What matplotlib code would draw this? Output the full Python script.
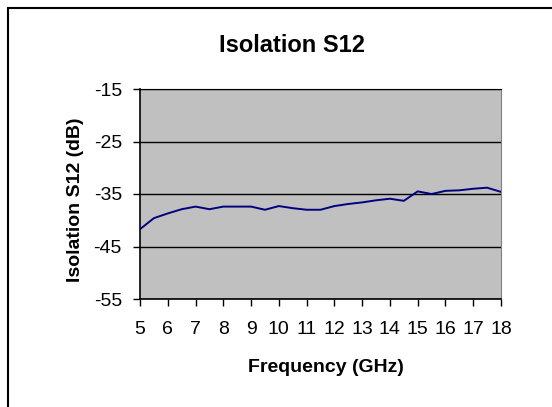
import matplotlib
matplotlib.use('Agg')
import matplotlib.pyplot as plt
from matplotlib.patches import Rectangle

plt.rcParams['font.family'] = ['Liberation Sans', 'DejaVu Sans']

freq = [5.0, 5.5, 6.0, 6.5, 7.0, 7.5, 8.0, 8.5, 9.0, 9.5, 10.0, 10.5, 11.0, 11.5,
        12.0, 12.5, 13.0, 13.5, 14.0, 14.5, 15.0, 15.5, 16.0, 16.5, 17.0, 17.5, 18.0]
s12 = [-41.7, -39.6, -38.7, -37.9, -37.4, -37.9, -37.4, -37.4, -37.4, -38.0, -37.3,
       -37.7, -38.0, -38.0, -37.3, -36.9, -36.6, -36.2, -35.9, -36.3, -34.5, -35.0,
       -34.4, -34.3, -34.0, -33.8, -34.6]
yticks = [-55, -45, -35, -25, -15]
xticks = list(range(5, 19))

fig = plt.figure(figsize=(5.52, 4.07), dpi=100)
ax = fig.add_axes([140/552, 1-299/407, 361/552, 210/407])
ax.set_facecolor('#C0C0C0')

ax.plot(freq, s12, color='#000080', lw=1.4, zorder=3)

ax.set_xlim(5, 18)
ax.set_ylim(-55, -15)
ax.set_xticks(xticks)
ax.set_yticks(yticks)
ax.set_yticklabels(['-55', '-45', '-35', '-25', '-15'])
ax.tick_params(direction='out', length=5, width=1, labelsize=14, colors='black')
ax.tick_params(axis='x', pad=11)
ax.tick_params(axis='y', pad=8)
ax.grid(axis='y', color='black', lw=1)
ax.set_axisbelow(True)

for s in ['left', 'bottom']:
    ax.spines[s].set_linewidth(1.2)
    ax.spines[s].set_color('black')
ax.spines['right'].set_color('#808080')
ax.spines['top'].set_color('black')

fig.text(292/552, 1-45/407, 'Isolation S12', ha='center', va='center',
         fontsize=17, fontweight='bold')
fig.text(326/552, 1-368/407, 'Frequency (GHz)', ha='center', va='center',
         fontsize=14, fontweight='bold')
fig.text(76/552, 1-200/407, 'Isolation S12 (dB)', ha='center', va='center',
         fontsize=14, fontweight='bold', rotation=90)

# chart area border (right and bottom edges fall outside the image)
fig.patches.append(Rectangle((8/552, -0.1), 1.2, 1.1 - 8/407, transform=fig.transFigure,
                             fill=False, edgecolor='black', lw=1.5))

fig.savefig('out.png', dpi=100)
